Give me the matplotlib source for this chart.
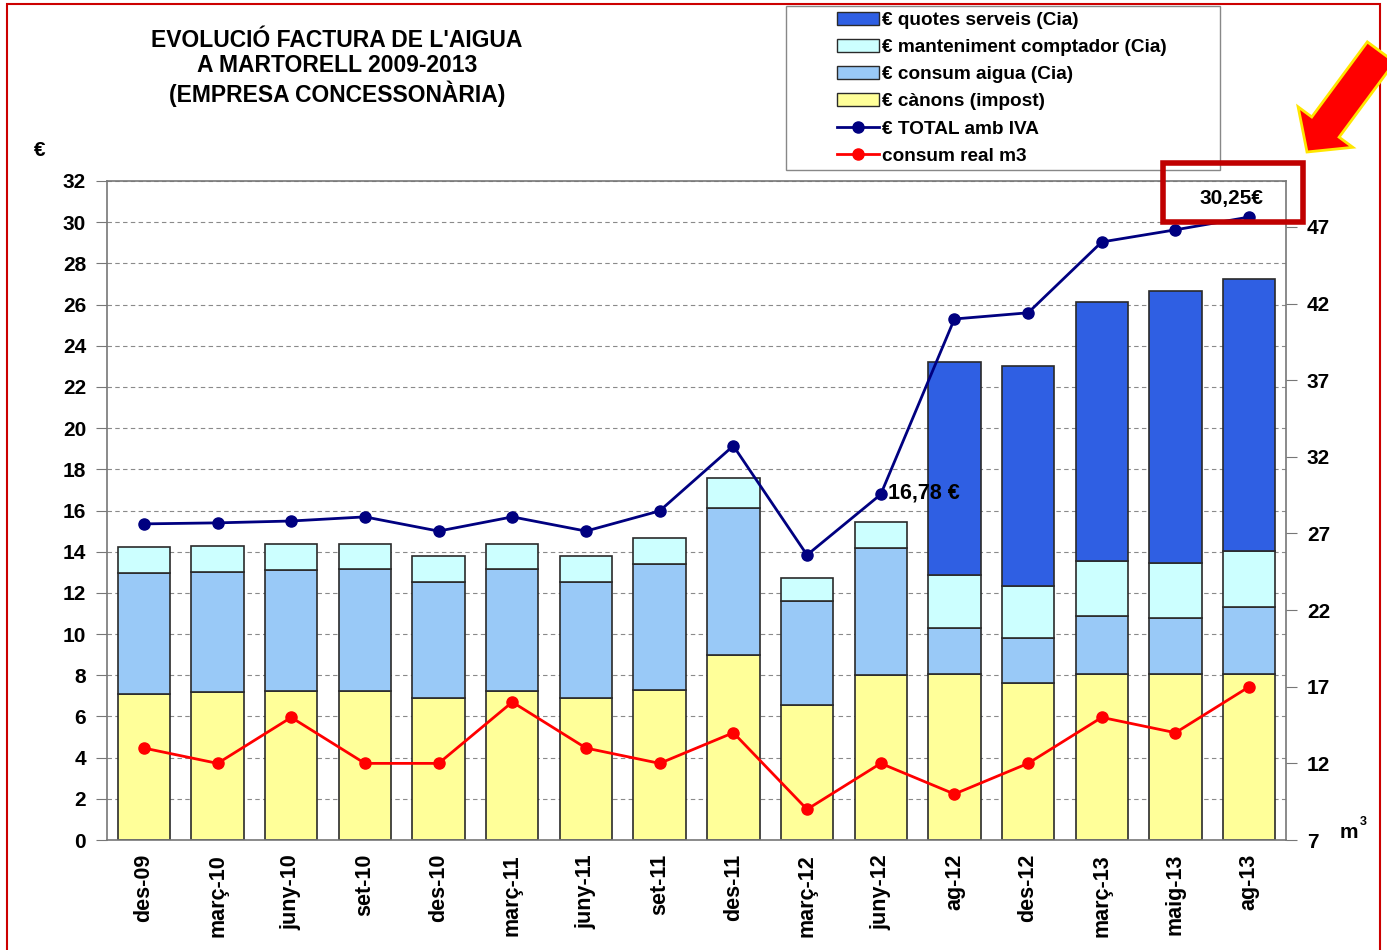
import matplotlib

matplotlib.use("Agg")

import matplotlib.pyplot as plt  # noqa: E402
import numpy as np  # noqa: E402
from matplotlib.lines import Line2D  # noqa: E402
from matplotlib.patches import FancyArrow, Patch, Rectangle  # noqa: E402
from matplotlib.transforms import IdentityTransform  # noqa: E402

plt.rcParams["font.family"] = ["Liberation Sans", "DejaVu Sans"]
plt.rcParams["font.weight"] = "bold"

W, H = 1387, 950

periods = ["des-09", "març-10", "juny-10", "set-10", "des-10", "març-11",
           "juny-11", "set-11", "des-11", "març-12", "juny-12", "ag-12",
           "des-12", "març-13", "maig-13", "ag-13"]

# stacked components (€), bottom to top
canons = [7.09, 7.19, 7.24, 7.24, 6.90, 7.24, 6.90, 7.28, 8.98, 6.56, 8.01,
          8.06, 7.62, 8.06, 8.06, 8.06]
consum_aigua = [5.88, 5.81, 5.86, 5.92, 5.63, 5.92, 5.63, 6.12, 7.14, 5.04,
                6.17, 2.24, 2.19, 2.82, 2.72, 3.26]
manteniment = [1.26, 1.28, 1.27, 1.21, 1.26, 1.21, 1.26, 1.27, 1.46, 1.12,
               1.26, 2.57, 2.53, 2.67, 2.67, 2.72]
quotes = [0, 0, 0, 0, 0, 0, 0, 0, 0, 0, 0, 10.34, 10.68, 12.58, 13.21, 13.21]

total_iva = [15.35, 15.40, 15.49, 15.69, 15.00, 15.69, 15.00, 15.98, 19.14,
             13.84, 16.78, 25.30, 25.60, 29.04, 29.63, 30.25]
consum_m3 = [13, 12, 15, 12, 12, 16, 13, 12, 14, 9, 12, 10, 12, 15, 14, 17]

C_QUOTES = "#2F5FE3"
C_MANT = "#CCFFFF"
C_CONSUM = "#99C9F7"
C_CANONS = "#FFFF99"
C_TOTAL = "#000080"
C_M3 = "#FF0000"

fig = plt.figure(figsize=(W / 100, H / 100), dpi=100, facecolor="white")
ax = fig.add_axes([107 / W, 1 - 840 / H, (1286 - 107) / W, (840 - 181) / H])

x = np.arange(len(periods))
bw = 0.71
edge = dict(edgecolor="#2a2a2a", linewidth=1.2, zorder=2)
bottom = np.zeros(len(periods))
for vals, col in ((canons, C_CANONS), (consum_aigua, C_CONSUM),
                  (manteniment, C_MANT), (quotes, C_QUOTES)):
    v = np.array(vals)
    mask = v > 0
    ax.bar(x[mask], v[mask], bw, bottom=bottom[mask], color=col, **edge)
    bottom = bottom + v

ax.plot(x, total_iva, color=C_TOTAL, lw=2, marker="o", ms=8, zorder=4)

ax.set_xlim(-0.5, len(periods) - 0.5)
ax.set_ylim(0, 32)
ax.set_yticks(range(0, 33, 2))
ax.grid(axis="y", linestyle=(0, (4, 3)), color="#8a8a8a", lw=0.8)
ax.set_axisbelow(True)
ax.set_xticks(x)
ax.set_xticklabels(periods, rotation=90, fontsize=15.5, fontweight="bold")
ax.tick_params(axis="x", length=0, pad=10)
ax.tick_params(axis="y", labelsize=15, length=8, color="#777777", pad=7)
for s in ax.spines.values():
    s.set_color("#777777")
    s.set_linewidth(1.2)

ax2 = ax.twinx()
ax2.plot(x, consum_m3, color=C_M3, lw=2, marker="o", ms=8, zorder=4)
ax2.set_ylim(7, 50)
ax2.set_yticks(range(7, 48, 5))
ax2.tick_params(axis="y", labelsize=15, length=8, color="#777777", pad=7)
for s in ax2.spines.values():
    s.set_visible(False)

ax.annotate("16,78 €", xy=(10, total_iva[10]), xytext=(5, 1),
            textcoords="offset points", va="center", ha="left",
            fontsize=15.5, fontweight="bold")
ax.annotate("30,25€", xy=(15, total_iva[15]), xytext=(-13, 13),
            textcoords="offset points", va="center", ha="center",
            fontsize=15, fontweight="bold")

# titles and axis captions
fig.text(337 / W, 1 - 68 / H,
         "EVOLUCIÓ FACTURA DE L'AIGUA\nA MARTORELL 2009-2013\n(EMPRESA CONCESSONÀRIA)",
         ha="center", va="center", fontsize=16.5, fontweight="bold",
         linespacing=1.15)
fig.text(40 / W, 1 - 150 / H, "€", ha="center", va="center", fontsize=15,
         fontweight="bold")
fig.text(1340 / W, 1 - 833 / H, "m", ha="left", va="center", fontsize=15,
         fontweight="bold")
fig.text(1360 / W, 1 - 822 / H, "3", ha="left", va="center", fontsize=9,
         fontweight="bold")

# legend in its own box
fig.add_artist(Rectangle((786 / W, 1 - 170 / H), (1220 - 786) / W, 164 / H,
                         transform=fig.transFigure, fill=False,
                         edgecolor="#888888", lw=1))
handles = [
    Patch(facecolor=C_QUOTES, edgecolor="#2a2a2a", label="€ quotes serveis (Cia)"),
    Patch(facecolor=C_MANT, edgecolor="#2a2a2a", label="€ manteniment comptador (Cia)"),
    Patch(facecolor=C_CONSUM, edgecolor="#2a2a2a", label="€ consum aigua (Cia)"),
    Patch(facecolor=C_CANONS, edgecolor="#2a2a2a", label="€ cànons (impost)"),
    Line2D([], [], color=C_TOTAL, lw=2, marker="o", ms=8, label="€ TOTAL amb IVA"),
    Line2D([], [], color=C_M3, lw=2, marker="o", ms=8, label="consum real m3"),
]
fig.legend(handles=handles, loc="upper left",
           bbox_to_anchor=(837 / W, 1 - 12 / H), frameon=False,
           prop={"size": 13.7, "weight": "bold"}, handlelength=2.2,
           handleheight=0.65, handletextpad=0.15, labelspacing=0.53,
           borderaxespad=0, borderpad=0)

# highlight box and arrow
fig.add_artist(Rectangle((1163 / W, 1 - 222 / H), 140 / W, 59 / H,
                         transform=fig.transFigure, fill=False,
                         edgecolor="#C00000", lw=4, zorder=6))
fig.add_artist(FancyArrow(1381, H - 52, -74, -100, width=34, head_width=68,
                          head_length=31, length_includes_head=True,
                          transform=IdentityTransform(), facecolor="#FF0000",
                          edgecolor="#FFE600", lw=2, zorder=6))

# red frame around the picture
fig.add_artist(Rectangle((7 / W, -0.01), (1380 - 7) / W, 1.01 - 4 / H,
                         transform=fig.transFigure, fill=False,
                         edgecolor="#CC0000", lw=1.5))

fig.savefig("out.png", dpi=100, facecolor="white")
